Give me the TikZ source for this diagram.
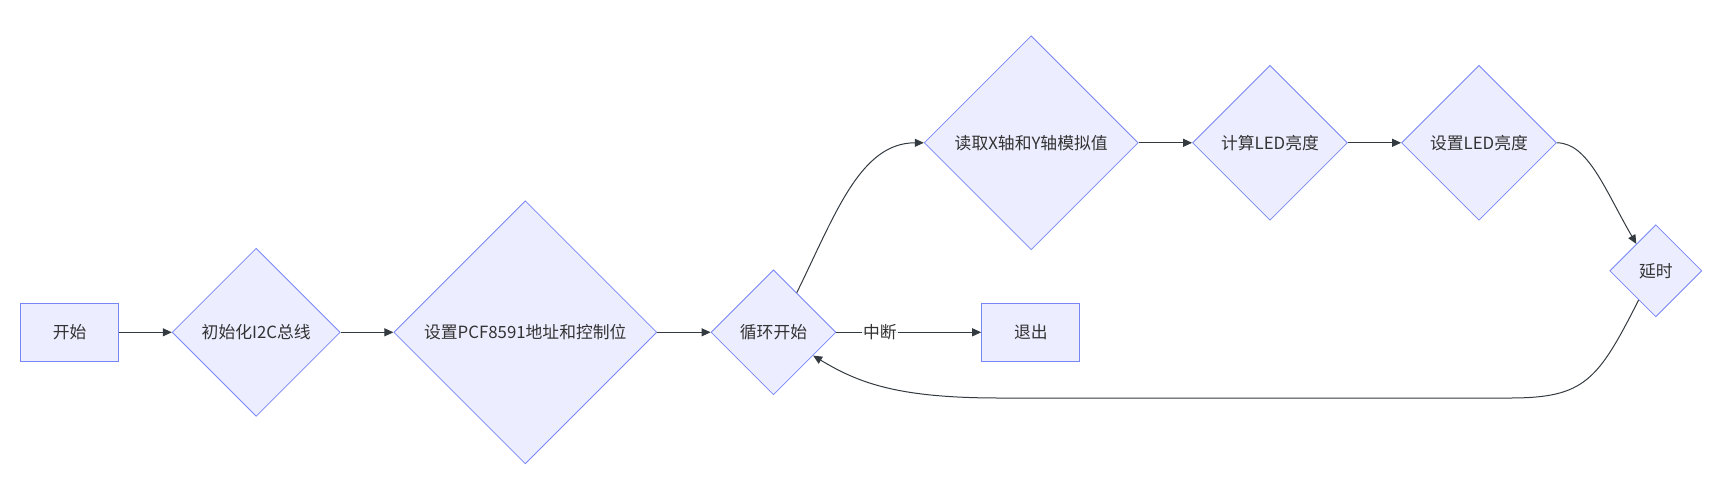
\documentclass[tikz,border=0pt]{standalone}
\usepackage{fontspec}
\setmainfont{Noto Sans CJK SC}
\usepackage{xcolor}
\usepackage{tikz}
\usetikzlibrary{shapes.geometric,arrows.meta,calc}
\definecolor{nodefill}{RGB}{236,238,255}
\definecolor{nodeline}{RGB}{120,134,245}
\definecolor{linkline}{RGB}{51,58,64}
\definecolor{txt}{RGB}{51,51,51}

\begin{document}
\begin{tikzpicture}[ %可选参数设置此图的属性
        x=1pt, y=-1pt, % 1pt 对应一个像素, y 向下
        font=\fontsize{16.8pt}{20pt}\selectfont\color{txt}, % 字体大小
        box/.style={draw=nodeline, fill=nodefill, line width=1.2pt,
          minimum width=98pt, minimum height=58pt, inner sep=0pt}, % 矩形节点
        choice/.style={diamond, draw=nodeline, fill=nodefill, line width=0.8pt,
          inner sep=0pt, minimum width=#1, minimum height=#1}, % 菱形节点
        link/.style={draw=linkline, line width=1pt, -{Triangle[length=9pt,width=8pt]}}, % 连线
        tag/.style={fill=white, fill opacity=0.9, text opacity=1, inner sep=1pt} % 连线标签
      ]
      \useasboundingbox (0,0) rectangle (1733,491); % 图的边界
      %% node
      \node[box] (start) at (69.7,332.3) {开始};
      \node[choice=168pt] (init) at (256.2,332.3) {初始化I2C总线};
      \node[choice=263pt] (pcf) at (525.3,332.3) {设置PCF8591地址和控制位};
      \node[choice=125pt] (loop) at (773.5,332.3) {循环开始};
      \node[box] (quit) at (1030.8,332.3) {退出};
      \node[choice=214pt] (read) at (1031.2,142.8) {读取X轴和Y轴模拟值};
      \node[choice=155pt] (calc) at (1270,142.8) {计算LED亮度};
      \node[choice=155pt] (setled) at (1479,142.8) {设置LED亮度};
      \node[choice=92pt] (delay) at (1655.8,270.8) {延时};
      %% path
      \draw[link] (start.east) -- (init.west);
      \draw[link] (init.east) -- (pcf.west);
      \draw[link] (pcf.east) -- (loop.west);
      \draw[link] ($(loop.north)!0.37!(loop.east)$) .. controls (835,215) and (860,142.8) .. (read.west);
      \draw[link] (read.east) -- (calc.west);
      \draw[link] (calc.east) -- (setled.west);
      \draw[link] (setled.east) .. controls (1588,142.8) and (1605,190) .. ($(delay.north)!0.42!(delay.west)$);
      \draw[link] ($(delay.south)!0.37!(delay.west)$) .. controls (1598,380) and (1585,398) .. (1510,398)
        -- (1000,398) .. controls (900,398) and (860,384) .. ($(loop.south)!0.63!(loop.east)$);
      \draw[link] (loop.east) -- node[tag, pos=0.3] (cut) {中断} (quit.west);
\end{tikzpicture}
\end{document}
